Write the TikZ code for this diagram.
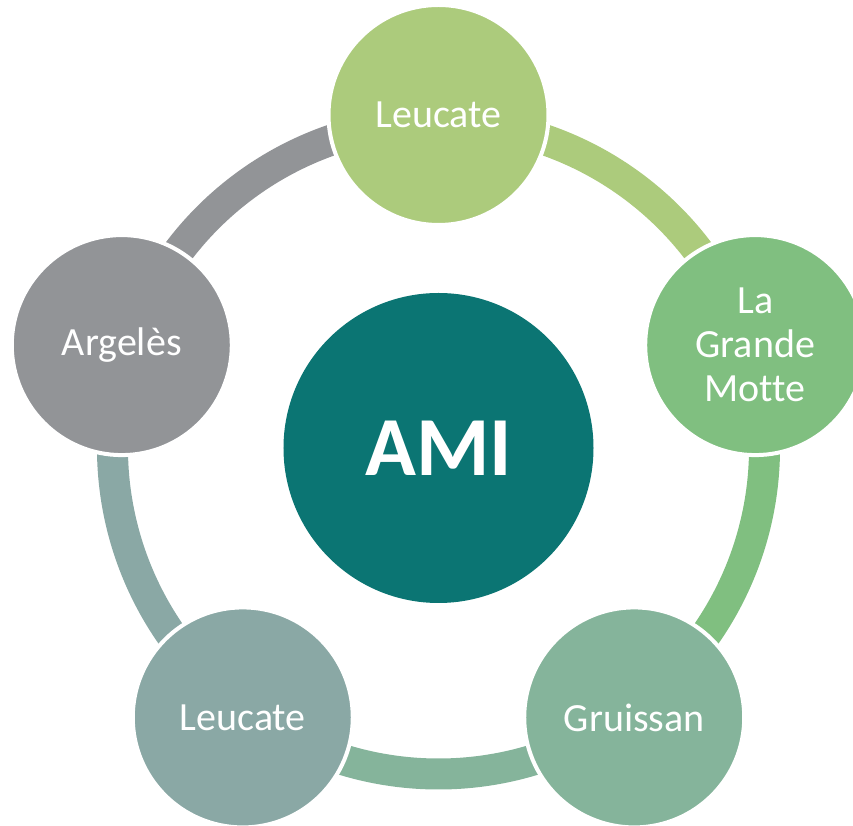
\documentclass[tikz,border=0pt]{standalone}
\usepackage{fontspec}
\setmainfont{Carlito}[Ligatures=NoCommon]
\usepackage{tikz}
\usetikzlibrary{positioning, calc}

\definecolor{amiteal}{HTML}{0B7573}
\definecolor{leucgreen}{HTML}{ACCB7C}
\definecolor{mottegreen}{HTML}{80BF80}
\definecolor{gruissgreen}{HTML}{85B49B}
\definecolor{leucgray}{HTML}{8AA8A5}
\definecolor{argegray}{HTML}{929497}

\begin{document}
\begin{tikzpicture}[
  x=1pt, y=1pt,
  every node/.style={text=white},
  hub/.style={
    circle, fill=amiteal, inner sep=0pt,
    minimum size=310pt, align=center,
    font=\fontsize{84}{92}\selectfont\bfseries
  },
  town/.style={
    circle, draw=white, line width=4pt, inner sep=0pt,
    minimum size=220pt, align=center,
    font=\fontsize{40}{44}\selectfont
  },
  ring/.style={
    line width=31pt
  }
]

% Frame
\clip (-438.5,-378) rectangle (414.5,448);

% Centre
\node[hub] (ami) at (0,0) {AMI};

% Ring segments (drawn under the towns)
\draw[ring, leucgreen] ([shift={(90:326)}]ami.center) arc[start angle=90, end angle=18, radius=326];
\draw[ring, mottegreen] ([shift={(18:326)}]ami.center) arc[start angle=18, end angle=-54, radius=326];
\draw[ring, gruissgreen] ([shift={(-54:326)}]ami.center) arc[start angle=-54, end angle=-126, radius=326];
\draw[ring, leucgray] ([shift={(-126:326)}]ami.center) arc[start angle=-126, end angle=-198, radius=326];
\draw[ring, argegray] ([shift={(162:326)}]ami.center) arc[start angle=162, end angle=90, radius=326];

% Towns
\node[town, fill=leucgreen] (leucate) at (90:333) {Leucate};

\node[town, fill=mottegreen] (motte) at (18:333)
{La\\Grande\\Motte};

\node[town, fill=gruissgreen] (gruissan) at (-54:333) {Gruissan};

\node[town, fill=leucgray] (leucatesud) at (-126:333) {Leucate};

\node[town, fill=argegray] (argeles) at (162:333) {Argelès};

\end{tikzpicture}
\end{document}
